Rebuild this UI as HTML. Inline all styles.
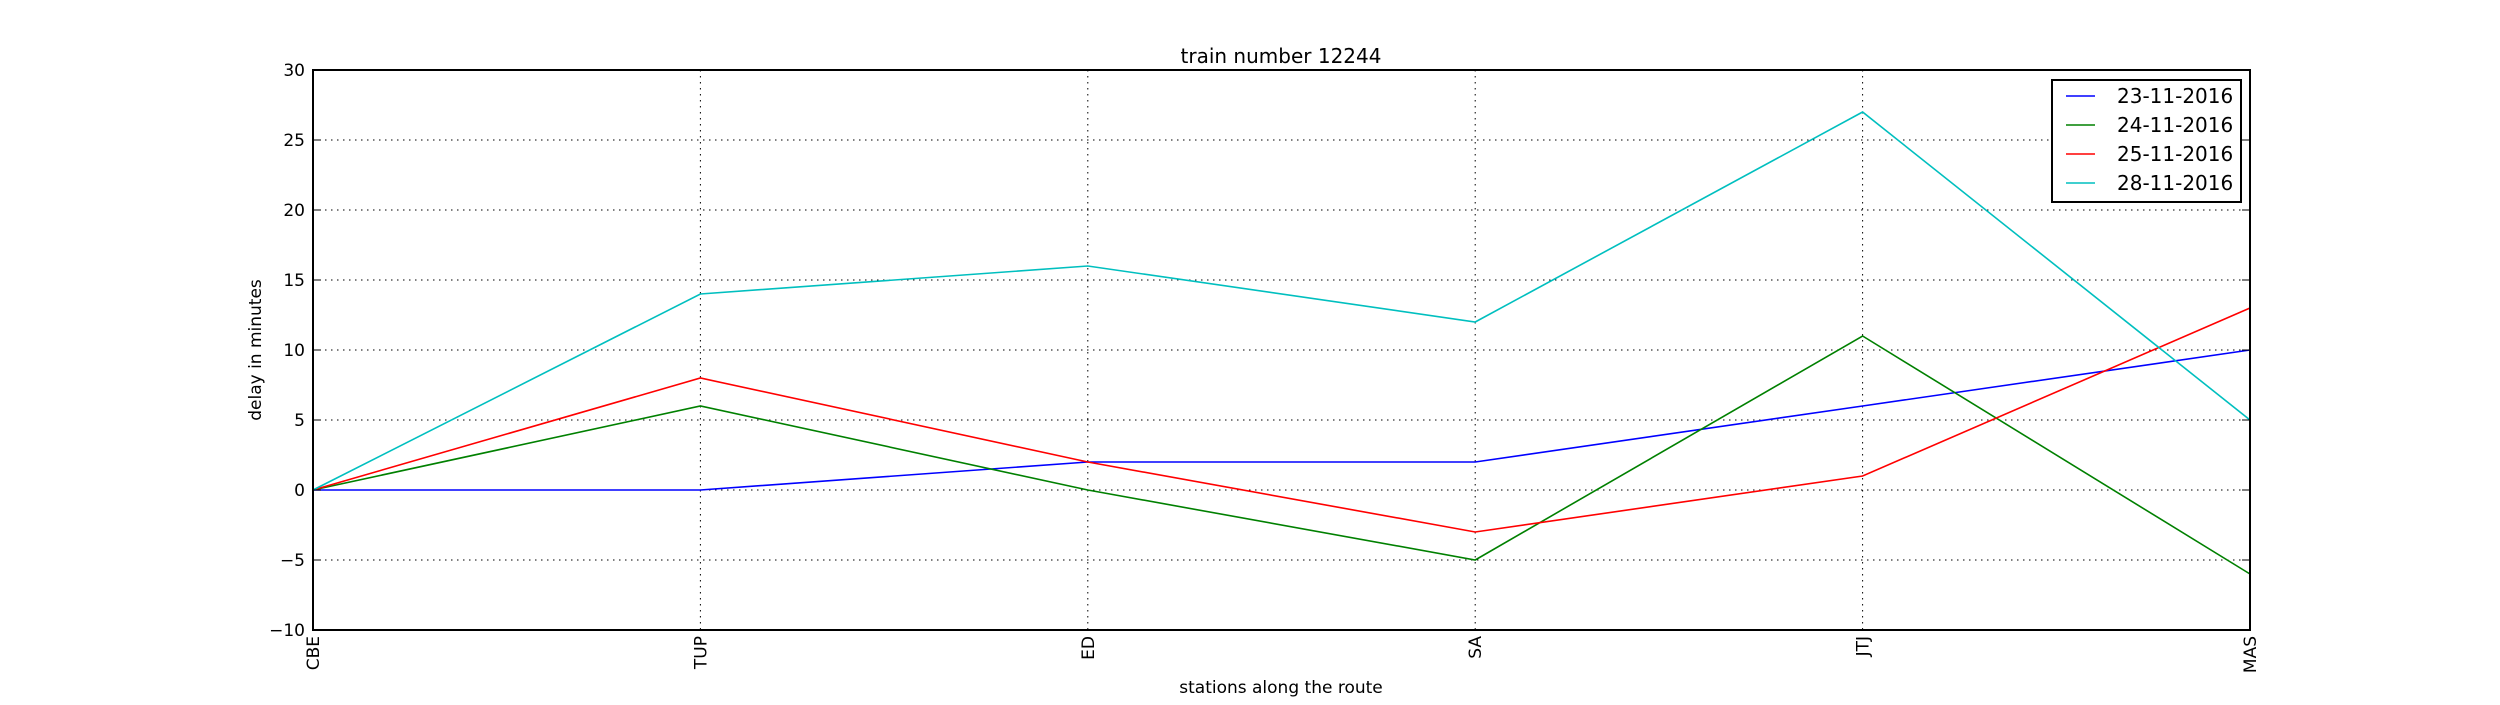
<!DOCTYPE html>
<html><head><meta charset="utf-8"><style>
html,body{margin:0;padding:0;background:#fff;}
svg text{font-family:"DejaVu Sans","Liberation Sans",sans-serif;fill:#000;}
</style></head><body>
<svg id="chart" width="2500" height="700" xmlns="http://www.w3.org/2000/svg">
<rect width="2500" height="700" fill="#fff"/>
<g id="grid"></g>
<g id="series"></g>
<rect x="313" y="70" width="1937" height="560" fill="none" stroke="#000" stroke-width="2"/>
<g id="ticks"></g>
<text x="1281" y="63" font-size="20" text-anchor="middle">train number 12244</text>
<text transform="translate(261,350) rotate(-90)" font-size="17" text-anchor="middle">delay in minutes</text>
<text x="1281" y="693" font-size="17" text-anchor="middle">stations along the route</text>
<g>
<rect x="2052" y="80" width="189" height="122" fill="#fff" stroke="#000" stroke-width="2"/>
<g id="legend-items"></g>
</g>
</svg>
<script>
const stations = ["CBE","TUP","ED","SA","JTJ","MAS"];
const dates = ["23-11-2016","24-11-2016","25-11-2016","28-11-2016"];
const s23 = [0,0,2,2,6,10];
const s24 = [0,6,0,-5,11,-6];
const s25 = [0,8,2,-3,1,13];
const s28 = [0,14,16,12,27,5];
const yTicks = [-10,-5,0,5,10,15,20,25,30];
const yTickLabels = ["\u221210","\u22125","0","5","10","15","20","25","30"];

const colors = ["#0000ff","#008000","#ff0000","#00bfbf"];
const series = [s23,s24,s25,s28];
const L=313,R=2250,T=70,B=630, yMin=-10,yMax=30;
const xs = i => L + i*(R-L)/(stations.length-1);
const ys = v => B - (v-yMin)*(B-T)/(yMax-yMin);
const NS="http://www.w3.org/2000/svg";
function mk(tag,parent){const e=document.createElementNS(NS,tag);parent.appendChild(e);return e;}
const grid=document.getElementById('grid'), ticks=document.getElementById('ticks');
yTicks.forEach((v,i)=>{
  const y=ys(v);
  const g=mk('line',grid);
  
  
  g.setAttribute('x1',L);g.setAttribute('x2',R);g.setAttribute('y1',y);g.setAttribute('y2',y);
  g.setAttribute('stroke','#000');g.setAttribute('stroke-width','1');g.setAttribute('stroke-dasharray','1.5,4.5');
  const t=mk('text',ticks);
  
  
  t.setAttribute('x',L-8);t.setAttribute('y',y+6);t.setAttribute('font-size','17');t.setAttribute('text-anchor','end');
  t.textContent=yTickLabels[i];
  [[L,L+8],[R-8,R]].forEach(p=>{const m=mk('line',ticks);
    
    
    m.setAttribute('x1',p[0]);m.setAttribute('x2',p[1]);m.setAttribute('y1',y);m.setAttribute('y2',y);m.setAttribute('stroke','#000');});
});
stations.forEach((s,i)=>{
  const x=xs(i);
  const g=mk('line',grid);
  
  
  g.setAttribute('x1',x);g.setAttribute('x2',x);g.setAttribute('y1',T);g.setAttribute('y2',B);
  g.setAttribute('stroke','#000');g.setAttribute('stroke-width','1');g.setAttribute('stroke-dasharray','1.5,4.5');
  const t=mk('text',ticks);
  
  
  t.setAttribute('transform','translate('+(x+6)+','+(B+6)+') rotate(-90)');
  t.setAttribute('font-size','17');t.setAttribute('text-anchor','end');
  t.textContent=s;
});
const sg=document.getElementById('series');
series.forEach((d,k)=>{
  const p=mk('polyline',sg);
  
  
  p.setAttribute('points',d.map((v,i)=>xs(i)+','+ys(v)).join(' '));
  p.setAttribute('fill','none');p.setAttribute('stroke',colors[k]);p.setAttribute('stroke-width','1.6');
});
const lg=document.getElementById('legend-items');
dates.forEach((d,k)=>{
  const y=96+k*29;
  const l=mk('line',lg);
  
  
  l.setAttribute('x1',2066);l.setAttribute('x2',2095);l.setAttribute('y1',y);l.setAttribute('y2',y);
  l.setAttribute('stroke',colors[k]);l.setAttribute('stroke-width','1.6');
  const t=mk('text',lg);
  
  
  t.setAttribute('x',2117);t.setAttribute('y',y+7);t.setAttribute('font-size','20');
  t.textContent=d;
});
</script>
</body></html>
